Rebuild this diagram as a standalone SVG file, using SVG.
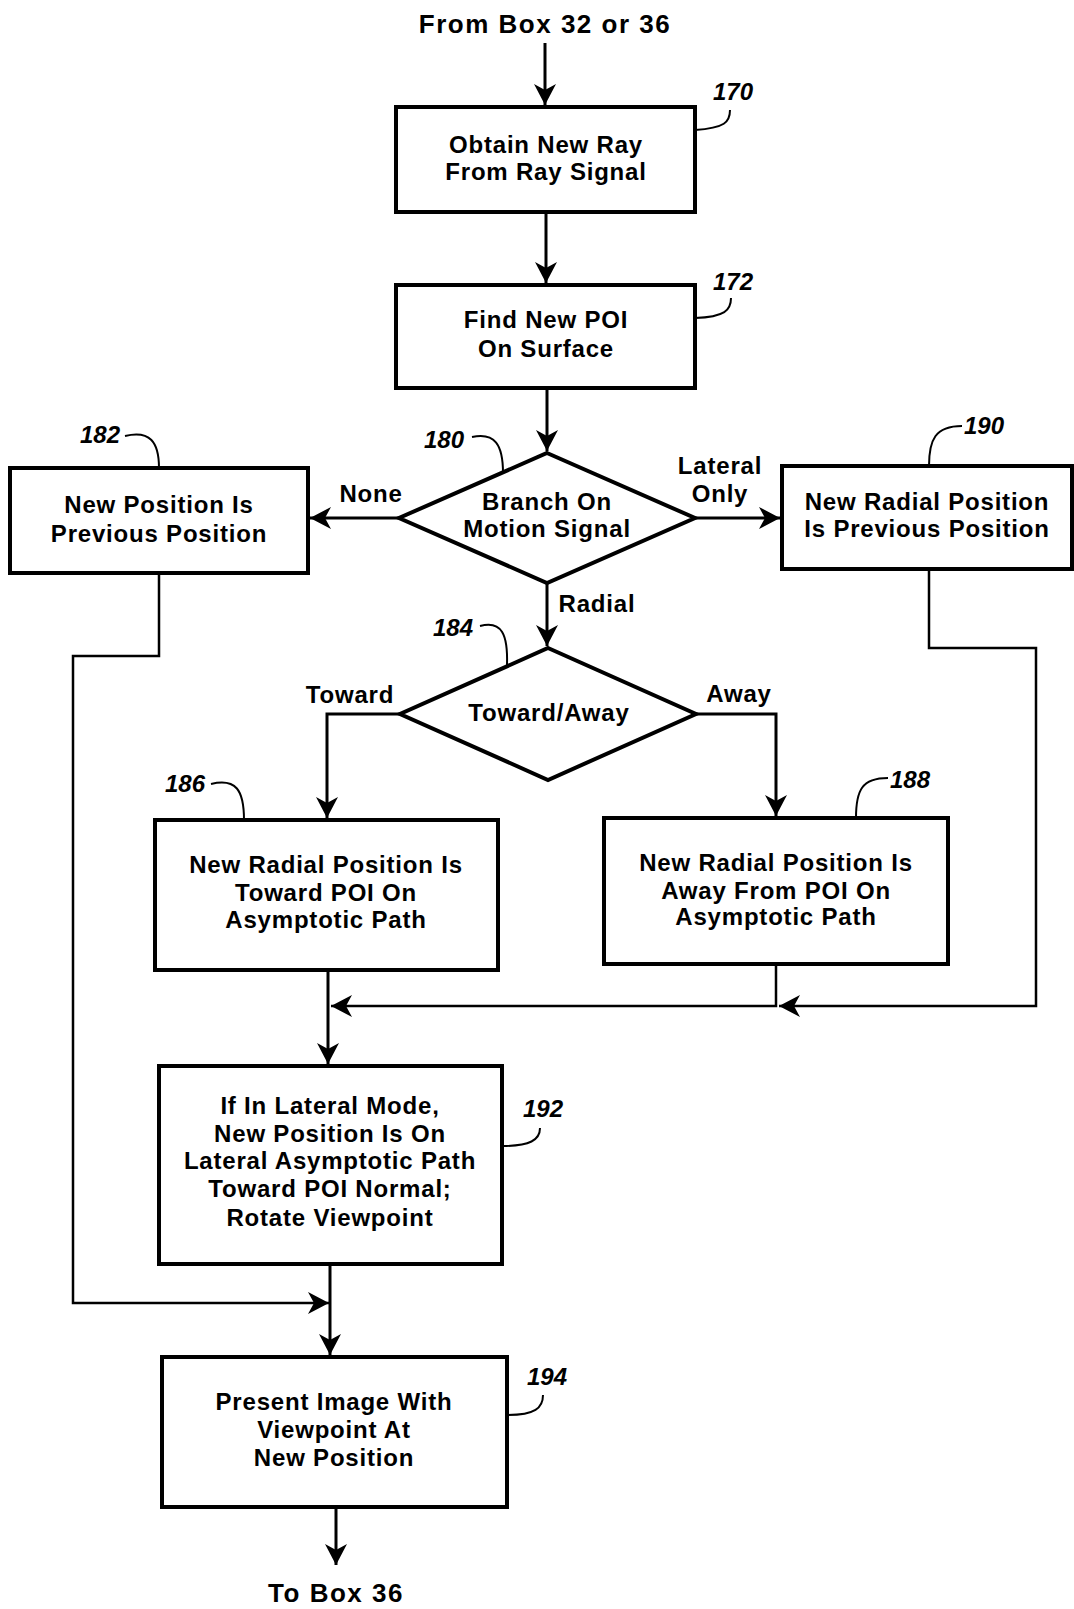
<svg xmlns="http://www.w3.org/2000/svg" width="1074" height="1609" viewBox="0 0 1074 1609">
<style>
.box{fill:#fff;stroke:#000;stroke-width:4}
.t{font-family:"Liberation Sans",Arial,sans-serif;font-weight:700;font-size:24px;letter-spacing:0.8px;text-anchor:middle;fill:#000}
.ttl{font-family:"Liberation Sans",Arial,sans-serif;font-weight:700;font-size:26px;letter-spacing:1.5px;text-anchor:middle;fill:#000}
.lbl{font-family:"Liberation Sans",Arial,sans-serif;font-weight:700;font-size:24px;letter-spacing:0.8px;text-anchor:middle;fill:#000}
.num{font-family:"Liberation Sans",Arial,sans-serif;font-weight:700;font-style:italic;font-size:24px;fill:#000}
.c{fill:none;stroke:#000;stroke-width:3}
.c2{fill:none;stroke:#000;stroke-width:2.5}
.ld{fill:none;stroke:#000;stroke-width:2}
</style>
<defs>
<marker id="ah" markerUnits="userSpaceOnUse" markerWidth="24" markerHeight="24" viewBox="-22 -12 24 24" refX="0" refY="0" orient="auto">
<path d="M0,0 L-21,-11 L-15,0 L-21,11 Z" fill="#000"/>
</marker>
</defs>
<rect width="1074" height="1609" fill="#fff"/>
<text class="ttl" x="545" y="33">From Box 32 or 36</text>
<text class="ttl" x="336" y="1602">To Box 36</text>

<g id="connectors">
<path class="c" d="M545,43 V105" marker-end="url(#ah)"/>
<path class="c" d="M546,212 V283" marker-end="url(#ah)"/>
<path class="c" d="M547,388 V451" marker-end="url(#ah)"/>
<path class="c" d="M400,518 H310" marker-end="url(#ah)"/>
<path class="c" d="M694,518 H780" marker-end="url(#ah)"/>
<path class="c" d="M547,583 V646" marker-end="url(#ah)"/>
<path class="c" d="M401,714 H327 V818" marker-end="url(#ah)"/>
<path class="c" d="M693,714 H776 V816" marker-end="url(#ah)"/>
<path class="c2" d="M929,569 V648 H1036 V1006 H779" marker-end="url(#ah)"/>
<path class="c2" d="M776,964 V1006 H331" marker-end="url(#ah)"/>
<path class="c" d="M328,970 V1064" marker-end="url(#ah)"/>
<path class="c2" d="M159,573 V656 H73 V1303 H329" marker-end="url(#ah)"/>
<path class="c" d="M330,1264 V1355" marker-end="url(#ah)"/>
<path class="c" d="M336,1507 V1565" marker-end="url(#ah)"/>
<text class="lbl" x="371" y="502">None</text>
<text class="lbl" x="720" y="474">Lateral</text>
<text class="lbl" x="720" y="502">Only</text>
<text class="lbl" x="597" y="612">Radial</text>
<text class="lbl" x="350" y="703">Toward</text>
<text class="lbl" x="739" y="702">Away</text>
</g>

<g id="n170">
<rect class="box" x="396" y="107" width="299" height="105"/>
<text class="t" x="546" y="153">Obtain New Ray</text>
<text class="t" x="546" y="180">From Ray Signal</text>
<path class="ld" d="M695,130 C725,128 730,122 730,110"/>
<text class="num" x="713" y="100">170</text>
</g>

<g id="n172">
<rect class="box" x="396" y="285" width="299" height="103"/>
<text class="t" x="546" y="328">Find New POI</text>
<text class="t" x="546" y="357">On Surface</text>
<path class="ld" d="M695,318 C725,317 731,310 731,298"/>
<text class="num" x="713" y="290">172</text>
</g>

<g id="n180">
<polygon class="box" points="547,453 695,518 547,583 399,518"/>
<text class="t" x="547" y="510">Branch On</text>
<text class="t" x="547" y="537">Motion Signal</text>
<path class="ld" d="M472,437 C495,432 503,445 503,473"/>
<text class="num" x="424" y="448">180</text>
</g>

<g id="n182">
<rect class="box" x="10" y="468" width="298" height="105"/>
<text class="t" x="159" y="513">New Position Is</text>
<text class="t" x="159" y="542">Previous Position</text>
<path class="ld" d="M125,436 C150,430 159,442 159,468"/>
<text class="num" x="80" y="443">182</text>
</g>

<g id="n190">
<rect class="box" x="782" y="466" width="290" height="103"/>
<text class="t" x="927" y="510">New Radial Position</text>
<text class="t" x="927" y="537">Is Previous Position</text>
<path class="ld" d="M929,466 C929,440 935,426 962,426"/>
<text class="num" x="964" y="434">190</text>
</g>

<g id="n184">
<polygon class="box" points="548,648 696,714 548,780 400,714"/>
<text class="t" x="549" y="721">Toward/Away</text>
<path class="ld" d="M480,626 C502,620 508,635 507,665"/>
<text class="num" x="433" y="636">184</text>
</g>

<g id="n186">
<rect class="box" x="155" y="820" width="343" height="150"/>
<text class="t" x="326" y="873">New Radial Position Is</text>
<text class="t" x="326" y="901">Toward POI On</text>
<text class="t" x="326" y="928">Asymptotic Path</text>
<path class="ld" d="M211,784 C236,778 244,790 244,820"/>
<text class="num" x="165" y="792">186</text>
</g>

<g id="n188">
<rect class="box" x="604" y="818" width="344" height="146"/>
<text class="t" x="776" y="871">New Radial Position Is</text>
<text class="t" x="776" y="899">Away From POI On</text>
<text class="t" x="776" y="925">Asymptotic Path</text>
<path class="ld" d="M856,818 C856,790 862,778 888,778"/>
<text class="num" x="890" y="788">188</text>
</g>

<g id="n192">
<rect class="box" x="159" y="1066" width="343" height="198"/>
<text class="t" x="330" y="1114">If In Lateral Mode,</text>
<text class="t" x="330" y="1142">New Position Is On</text>
<text class="t" x="330" y="1169">Lateral Asymptotic Path</text>
<text class="t" x="330" y="1197">Toward POI Normal;</text>
<text class="t" x="330" y="1226">Rotate Viewpoint</text>
<path class="ld" d="M502,1146 C530,1146 540,1140 540,1128"/>
<text class="num" x="523" y="1117">192</text>
</g>

<g id="n194">
<rect class="box" x="162" y="1357" width="345" height="150"/>
<text class="t" x="334" y="1410">Present Image With</text>
<text class="t" x="334" y="1438">Viewpoint At</text>
<text class="t" x="334" y="1466">New Position</text>
<path class="ld" d="M507,1415 C535,1415 543,1408 543,1395"/>
<text class="num" x="527" y="1385">194</text>
</g>
</svg>
